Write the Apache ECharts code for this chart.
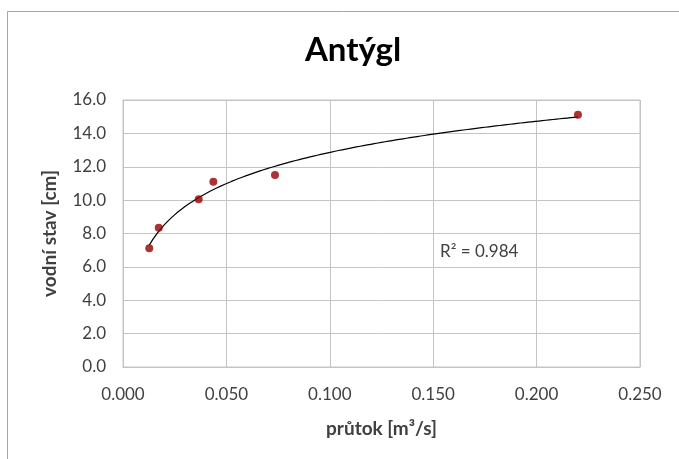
<!DOCTYPE html>
<html>
<head>
<meta charset="utf-8">
<script src="https://cdn.jsdelivr.net/npm/echarts@6/dist/echarts.min.js"></script>
<style>
html,body{margin:0;padding:0;background:#fff;}
#c{width:679px;height:459px;}
</style>
</head>
<body>
<div id="c"></div>
<script>
// Data
var chartTitle = 'Antýgl';
var xAxisName = 'průtok [m³/s]';
var yAxisName = 'vodní stav [cm]';
var flowValues = [0.0127, 0.0173, 0.0366, 0.0437, 0.0735, 0.220];   // průtok [m3/s]
var stageValues = [7.11, 8.35, 10.05, 11.10, 11.50, 15.12];          // vodní stav [cm]
var rSquaredLabel = 'R² = 0.984';

// Logarithmic trendline (least squares fit y = a*ln(x) + b) from the data
function logFit(xs, ys) {
  var n = xs.length, lx = xs.map(Math.log);
  var mx = lx.reduce(function(s, v){return s + v;}, 0) / n;
  var my = ys.reduce(function(s, v){return s + v;}, 0) / n;
  var sxy = 0, sxx = 0;
  for (var i = 0; i < n; i++) { sxy += (lx[i] - mx) * (ys[i] - my); sxx += (lx[i] - mx) * (lx[i] - mx); }
  var a = sxy / sxx;
  return { a: a, b: my - a * mx };
}
var fit = logFit(flowValues, stageValues);
var xMin = Math.min.apply(null, flowValues), xMax = Math.max.apply(null, flowValues);
var trend = [];
for (var k = 0; k <= 120; k++) {
  var xv = xMin + (xMax - xMin) * k / 120;
  trend.push([xv, fit.a * Math.log(xv) + fit.b]);
}
var points = flowValues.map(function(x, i){ return [x, stageValues[i]]; });

var chart = echarts.init(document.getElementById('c'), null, {renderer: 'canvas'});
var txt = '#404040';
chart.setOption({
  animation: false,
  backgroundColor: '#ffffff',
  title: {
    text: chartTitle, left: 348, textAlign: 'center', top: 29,
    textStyle: {fontFamily: 'Lato', fontWeight: 'bold', fontSize: 33, color: '#000'}
  },
  grid: {left: 123, top: 100, width: 517, height: 267, show: true, borderColor: '#c4c4c4', borderWidth: 1},
  xAxis: {
    type: 'value', min: 0, max: 0.25, interval: 0.05,
    name: xAxisName, nameLocation: 'middle', nameGap: 52,
    nameTextStyle: {fontFamily: 'Lato', fontWeight: 'bold', fontSize: 19, color: txt},
    axisLine: {show: true, lineStyle: {color: '#c4c4c4'}},
    axisTick: {show: false},
    axisLabel: {fontFamily: 'Lato', fontSize: 17, color: txt, margin: 19,
      formatter: function(v){ return v.toFixed(3); }},
    splitLine: {show: true, lineStyle: {color: '#c4c4c4', width: 1}}
  },
  yAxis: {
    type: 'value', min: 0, max: 16, interval: 2,
    name: yAxisName, nameLocation: 'middle', nameGap: 64, nameRotate: 90,
    nameTextStyle: {fontFamily: 'Lato', fontWeight: 'bold', fontSize: 19, color: txt},
    axisLine: {show: true, lineStyle: {color: '#c4c4c4'}},
    axisTick: {show: false},
    axisLabel: {fontFamily: 'Lato', fontSize: 17, color: txt, margin: 17,
      formatter: function(v){ return v.toFixed(1); }},
    splitLine: {show: true, lineStyle: {color: '#c4c4c4', width: 1}}
  },
  graphic: [
    {type: 'rect', shape: {x: 7.5, y: 11.5, width: 700, height: 470}, silent: true, z: -1,
      style: {fill: 'none', stroke: '#a6a6a6', lineWidth: 1}},
    {type: 'text', left: 440, top: 243, z: 10,
      style: {text: rSquaredLabel, fontFamily: 'Lato', fontSize: 17, fill: txt}}
  ],
  series: [
    {type: 'line', data: trend, showSymbol: false, symbol: 'none', smooth: false,
      lineStyle: {color: '#000', width: 1.2}, z: 2},
    {type: 'scatter', data: points, symbol: 'circle', symbolSize: 8,
      itemStyle: {color: '#990000'}, z: 3}
  ]
});
</script>
</body>
</html>
